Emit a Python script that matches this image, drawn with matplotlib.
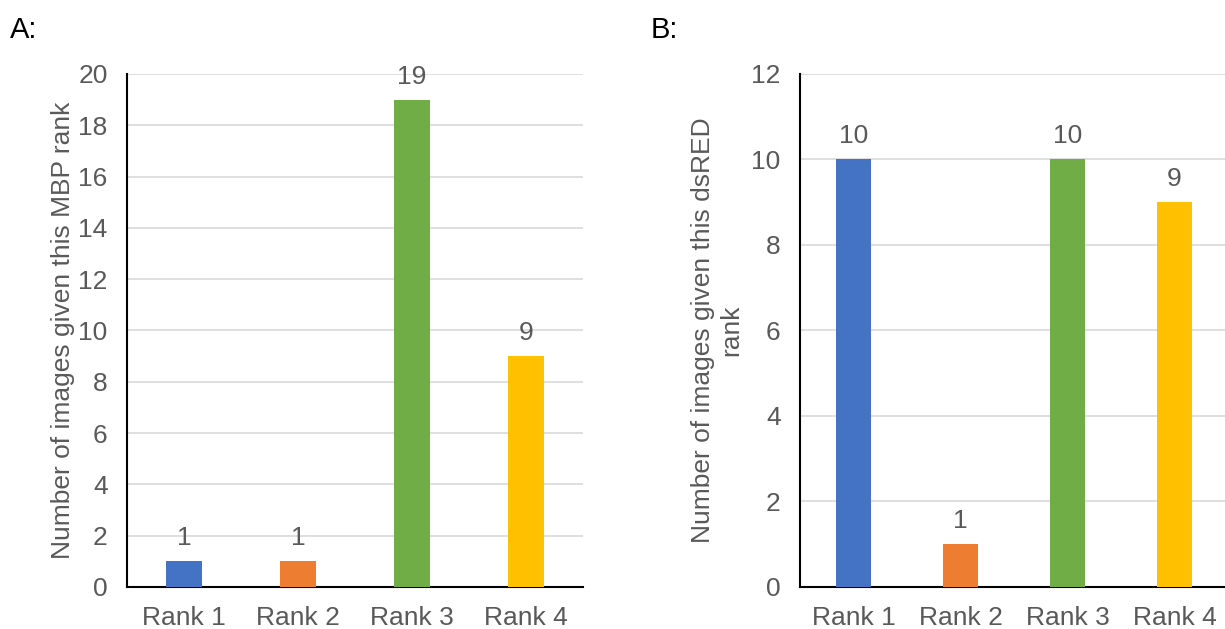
import numpy as np
import matplotlib.pyplot as plt

plt.rcParams['font.family'] = ['Liberation Sans', 'DejaVu Sans']

ranks = ['Rank 1', 'Rank 2', 'Rank 3', 'Rank 4']
mbp_counts = [1, 1, 19, 9]
dsred_counts = [10, 1, 10, 9]
bar_colors = ['#4472C4', '#ED7D31', '#70AD47', '#FFC000']

grey = '#595959'
fs = 19

fig = plt.figure(figsize=(12.25, 6.29), dpi=100)
ax_a = fig.add_axes([0.1037, 0.0668, 0.3722, 0.8156])
ax_b = fig.add_axes([0.6531, 0.0668, 0.3494, 0.8156])


def draw_panel(ax, counts, ymax, ylabel, lpad):
    x = np.arange(len(ranks))
    bars = ax.bar(x, counts, width=0.32, color=bar_colors, zorder=3)
    ax.bar_label(bars, padding=8, fontsize=fs, color=grey)
    ax.set_xlim(-0.5, len(ranks) - 0.5)
    ax.set_ylim(0, ymax)
    ax.set_yticks(np.arange(0, ymax + 1, 2))
    ax.set_xticks(x)
    ax.set_xticklabels(ranks)
    ax.tick_params(axis='both', length=0, labelsize=fs, labelcolor=grey)
    ax.tick_params(axis='x', pad=14)
    ax.tick_params(axis='y', pad=14)
    ax.yaxis.grid(True, color='#D9D9D9', linewidth=1.2, zorder=0)
    for side in ['top', 'right']:
        ax.spines[side].set_visible(False)
    for side in ['left', 'bottom']:
        ax.spines[side].set_color('black')
        ax.spines[side].set_linewidth(1.5)
    ax.set_ylabel(ylabel, fontsize=fs, color=grey, labelpad=lpad)


draw_panel(ax_a, mbp_counts, 20, 'Number of images given this MBP rank', 2)
draw_panel(ax_b, dsred_counts, 12, 'Number of images given this dsRED\nrank', 6)

fig.text(0.008, 0.952, 'A:', fontsize=21, va='center')
fig.text(0.531, 0.952, 'B:', fontsize=21, va='center')

fig.savefig('out.png', dpi=100)
